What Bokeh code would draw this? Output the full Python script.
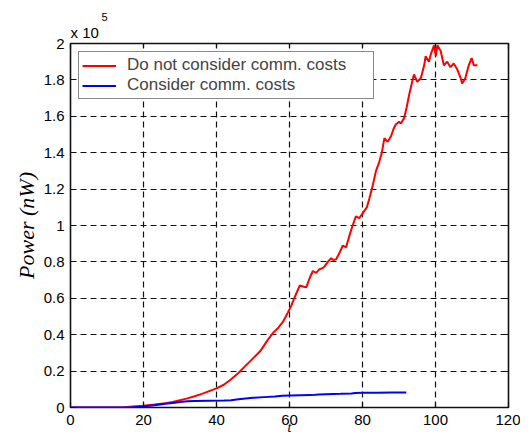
from bokeh.plotting import figure
from bokeh.models import (Range1d, FixedTicker, LinearAxis, Legend, Title,
                          LegendItem, CustomJSTickFormatter)
from bokeh.embed import file_html
from bokeh.resources import INLINE

# ---- data (power in units of 1e5 nW) ----
red_t = [0, 5, 10, 15, 17, 20, 23, 26, 28, 30, 32, 34, 36, 38, 40, 42, 44, 46, 48, 50,
         52, 54, 55.5, 57, 58.2, 59.5, 60.5, 61.5, 62.8, 63.7, 64.6, 65.5, 66.4, 67.3,
         68.2, 69, 69.6, 70.5, 71.4, 72.1, 72.8, 73.7, 74.6, 75.5, 76.5, 77.3, 78.2,
         79.1, 80.5, 81.2, 81.9, 82.8, 83.7, 84.6, 85.3, 86, 86.9, 87.8, 88.5, 89.1,
         90, 90.5, 91.4, 92.1, 92.8, 93.5, 94.1, 95, 96, 96.9, 97.3, 98.2, 98.7, 99.6,
         100.1, 100.5, 101.4, 102.3, 103.2, 104.1, 105, 105.9, 106.9, 107.3, 108.2,
         109.1, 109.9, 110.5, 111.5]
red_p = [0, 0, 0, 0.002, 0.006, 0.01, 0.016, 0.024, 0.03, 0.04, 0.05, 0.062, 0.075,
         0.09, 0.105, 0.125, 0.155, 0.19, 0.23, 0.27, 0.31, 0.37, 0.41, 0.44, 0.47,
         0.52, 0.56, 0.61, 0.67, 0.665, 0.66, 0.71, 0.75, 0.74, 0.76, 0.765, 0.775,
         0.8, 0.82, 0.81, 0.815, 0.85, 0.89, 0.88, 0.95, 1.0, 1.05, 1.04, 1.08, 1.1,
         1.15, 1.22, 1.30, 1.35, 1.40, 1.48, 1.46, 1.49, 1.53, 1.555, 1.57, 1.56, 1.59,
         1.65, 1.72, 1.78, 1.83, 1.79, 1.81, 1.88, 1.93, 1.90, 1.94, 1.99, 1.93, 1.99,
         1.96, 1.88, 1.90, 1.87, 1.89, 1.86, 1.81, 1.78, 1.81, 1.88, 1.92, 1.88, 1.88]

blue_t = [0, 10, 15, 17, 20, 23, 26, 28, 30, 32, 34, 38, 42, 44, 46, 48, 50, 53, 56,
          58, 60, 63, 66, 68, 70, 74, 77, 78, 80, 84, 88, 92]
blue_p = [0, 0, 0, 0.001, 0.005, 0.012, 0.02, 0.025, 0.03, 0.034, 0.036, 0.037, 0.038,
          0.04, 0.045, 0.05, 0.053, 0.057, 0.06, 0.065, 0.066, 0.067, 0.068, 0.072,
          0.073, 0.075, 0.077, 0.08, 0.081, 0.081, 0.082, 0.082]

x_ticks = [0, 20, 40, 60, 80, 100, 120]
y_ticks = [0, 0.2, 0.4, 0.6, 0.8, 1.0, 1.2, 1.4, 1.6, 1.8, 2.0]
series_names = ["Do not consider comm. costs", "Consider comm. costs"]
y_label = "Power (nW)"
x_label = "t"
multiplier = "x 10"
exponent = "5"

FONT = "Liberation Sans"
INK = "#111111"

p = figure(width=520, height=439, x_range=Range1d(0, 120), y_range=Range1d(0, 2),
           output_backend="svg", toolbar_location=None,
           min_border_left=70, min_border_right=12, min_border_top=43,
           min_border_bottom=32, background_fill_color="white",
           border_fill_color="white")

p.outline_line_color = INK
p.outline_line_width = 1.6

xa = p.below[0]
ya = p.left[0]
xa.ticker = FixedTicker(ticks=x_ticks)
ya.ticker = FixedTicker(ticks=y_ticks)
ya.formatter = CustomJSTickFormatter(code="return String(Math.round(tick*10)/10);")

blank = CustomJSTickFormatter(code="return '';")
top = LinearAxis(ticker=FixedTicker(ticks=x_ticks), formatter=blank)
right = LinearAxis(ticker=FixedTicker(ticks=y_ticks), formatter=blank)
p.add_layout(top, "above")
p.add_layout(right, "right")

for ax in [xa, ya, top, right]:
    ax.major_tick_in = 5
    ax.major_tick_out = 0
    ax.minor_tick_line_color = None
    ax.axis_line_color = None
    ax.major_tick_line_color = INK
    ax.major_tick_line_width = 1.2
    ax.major_label_text_font = FONT
    ax.major_label_text_font_size = "15px"
    ax.major_label_text_color = "black"

for ax in [top, right]:
    ax.major_label_text_font_size = "1px"
    ax.major_label_standoff = 0

xa.major_label_standoff = 7
xa.axis_label = x_label
xa.axis_label_text_font = "Liberation Serif"
xa.axis_label_text_font_style = "italic"
xa.axis_label_text_font_size = "14px"
xa.axis_label_standoff = -8
xa.axis_label_text_color = "black"

ya.major_label_standoff = 6
ya.axis_label = y_label
ya.axis_label_text_font = "Liberation Serif"
ya.axis_label_text_font_style = "italic"
ya.axis_label_text_font_size = "22px"
ya.axis_label_standoff = 2
ya.axis_label_text_color = "black"

for g in [p.xgrid[0], p.ygrid[0]]:
    g.grid_line_color = INK
    g.grid_line_dash = "6 4"
    g.grid_line_width = 1.2
p.xgrid[0].ticker = FixedTicker(ticks=x_ticks)
p.ygrid[0].ticker = FixedTicker(ticks=y_ticks)

r_red = p.line(red_t, red_p, line_color="#ff0000", line_width=2)
r_blue = p.line(blue_t, blue_p, line_color="#0000ff", line_width=2)

legend = Legend(items=[LegendItem(label=series_names[0], renderers=[r_red]),
                       LegendItem(label=series_names[1], renderers=[r_blue])],
                location="top_left", margin=8, padding=3, spacing=0,
                label_height=19, glyph_height=19, glyph_width=34, label_standoff=11,
                label_width=243, border_line_color=INK, border_line_width=1.3,
                label_text_font=FONT, label_text_font_size="17px",
                background_fill_color="white", background_fill_alpha=1.0)
p.add_layout(legend)

p.add_layout(Title(text=multiplier, align="left", offset=0, standoff=5,
                   text_font=FONT, text_font_size="15px", text_font_style="normal",
                   text_color="black"), "above")
p.add_layout(Title(text=exponent, align="left", offset=31, standoff=-2,
                   text_font=FONT, text_font_size="11px", text_font_style="normal",
                   text_color="black"), "above")

open("out.html", "w").write(file_html(p, INLINE))
